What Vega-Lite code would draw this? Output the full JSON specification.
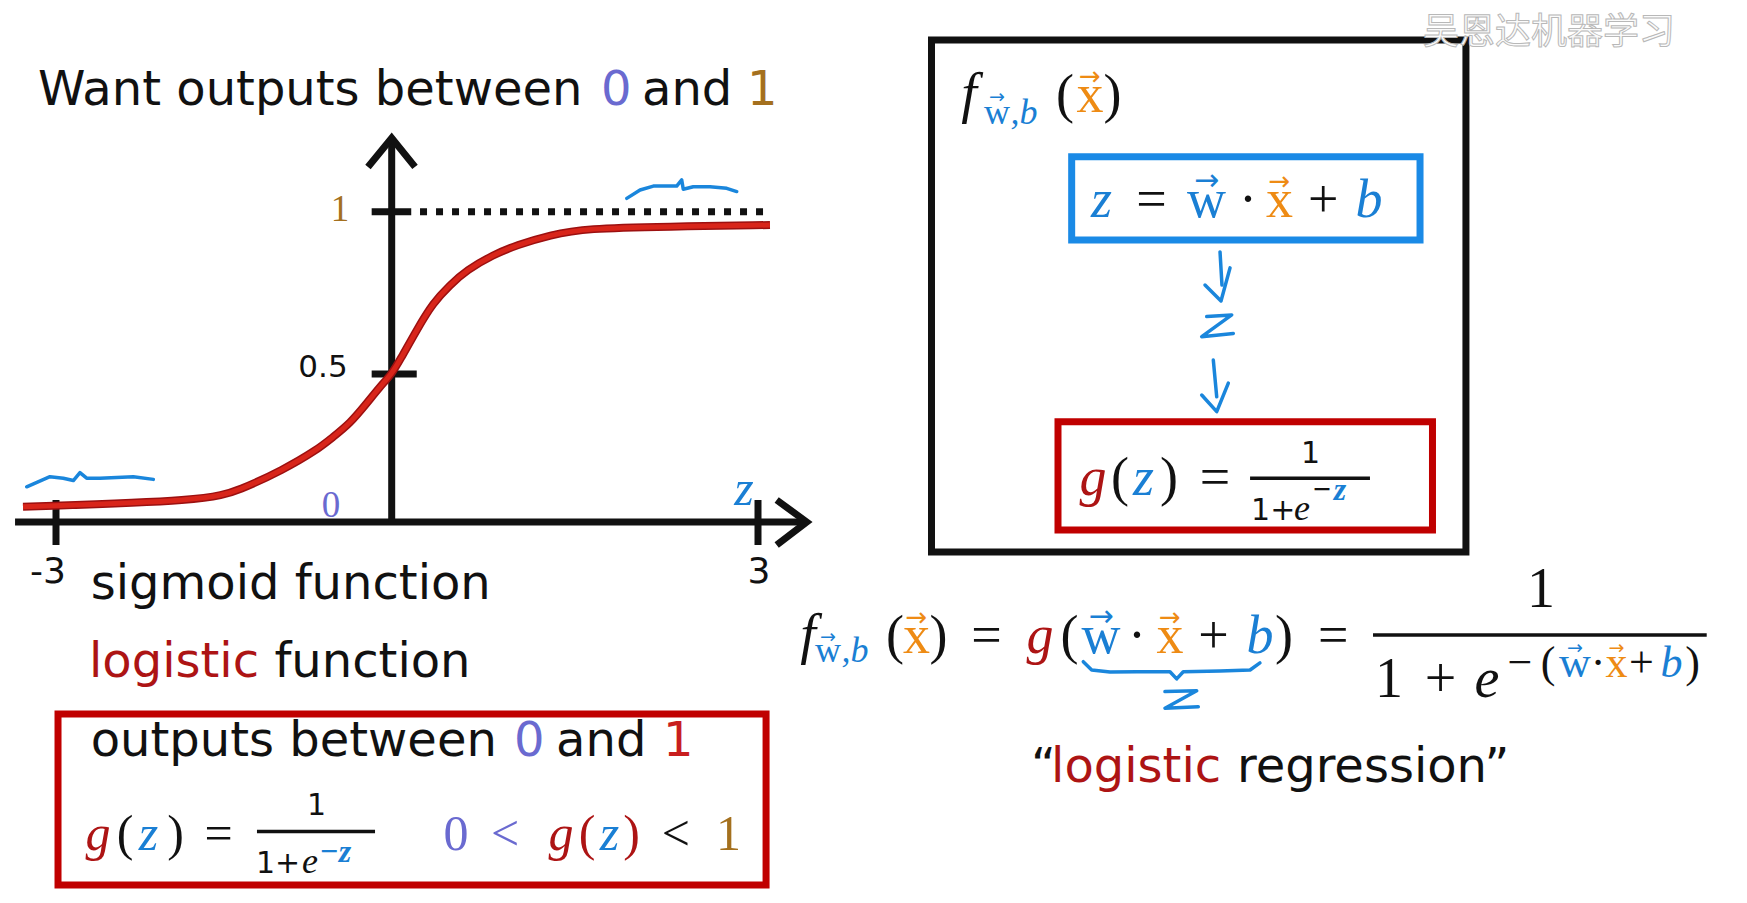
{
  "$schema": "https://vega.github.io/schema/vega-lite/v6.json",
  "width": 1747,
  "height": 903,
  "padding": 0,
  "autosize": {"type": "none"},
  "background": "#ffffff",
  "config": {"view": {"stroke": null}, "text": {"baseline": "alphabetic"}},
  "datasets": {
    "boxes": [
      {"frame": "plain", "z": 4.421, "z2": 8.798, "g": 1.529, "g2": -0.101},
      {"frame": "param", "z": 5.569, "z2": 8.422, "g": 1.169, "g2": 0.913},
      {"frame": "sigmoid", "z": 5.457, "z2": 8.524, "g": 0.339, "g2": -0.027},
      {"frame": "sigmoid", "z": -2.982, "z2": 3.066, "g": -0.649, "g2": -1.226}
    ],
    "lines": [
      {"seg": "xaxis", "ord": 0, "z": -3.366, "g": 0},
      {"seg": "xaxis", "ord": 1, "z": 3.36, "g": 0},
      {"seg": "xarrow", "ord": 0, "z": 3.153, "g": 0.0743},
      {"seg": "xarrow", "ord": 1, "z": 3.399, "g": 0},
      {"seg": "xarrow", "ord": 2, "z": 3.153, "g": -0.0777},
      {"seg": "yaxis", "ord": 0, "z": 0, "g": 0},
      {"seg": "yaxis", "ord": 1, "z": 0, "g": 1.221},
      {"seg": "yarrow", "ord": 0, "z": -0.212, "g": 1.138},
      {"seg": "yarrow", "ord": 1, "z": 0, "g": 1.227},
      {"seg": "yarrow", "ord": 2, "z": 0.191, "g": 1.138},
      {"seg": "tickm3", "ord": 0, "z": -3, "g": 0.0743},
      {"seg": "tickm3", "ord": 1, "z": -3, "g": -0.0777},
      {"seg": "tick3", "ord": 0, "z": 3, "g": 0.0743},
      {"seg": "tick3", "ord": 1, "z": 3, "g": -0.0777},
      {"seg": "tick1", "ord": 0, "z": -0.179, "g": 1},
      {"seg": "tick1", "ord": 1, "z": 0.16, "g": 1},
      {"seg": "tick05", "ord": 0, "z": -0.179, "g": 0.5},
      {"seg": "tick05", "ord": 1, "z": 0.205, "g": 0.5}
    ],
    "dots": [
      {"z": 0.232, "g": 1},
      {"z": 3.098, "g": 1}
    ],
    "curve": [
      {"ord": 0, "z": -3.295, "g": 0.0517},
      {"ord": 1, "z": -1.653, "g": 0.072},
      {"ord": 2, "z": -1.356, "g": 0.108},
      {"ord": 3, "z": -0.971, "g": 0.176},
      {"ord": 4, "z": -0.67, "g": 0.243},
      {"ord": 5, "z": -0.525, "g": 0.287},
      {"ord": 6, "z": -0.373, "g": 0.333},
      {"ord": 7, "z": -0.223, "g": 0.401},
      {"ord": 8, "z": -0.105, "g": 0.457},
      {"ord": 9, "z": 0, "g": 0.5},
      {"ord": 10, "z": 0.068, "g": 0.543},
      {"ord": 11, "z": 0.205, "g": 0.636},
      {"ord": 12, "z": 0.338, "g": 0.719},
      {"ord": 13, "z": 0.477, "g": 0.774},
      {"ord": 14, "z": 0.614, "g": 0.82},
      {"ord": 15, "z": 0.83, "g": 0.867},
      {"ord": 16, "z": 1.024, "g": 0.897},
      {"ord": 17, "z": 1.296, "g": 0.928},
      {"ord": 18, "z": 1.597, "g": 0.949},
      {"ord": 19, "z": 2.252, "g": 0.954},
      {"ord": 20, "z": 3.098, "g": 0.959}
    ],
    "ink": [
      {"seg": "squigL", "ord": 0, "z": -3.262, "g": 0.119},
      {"seg": "squigL", "ord": 1, "z": -3.054, "g": 0.153},
      {"seg": "squigL", "ord": 2, "z": -2.935, "g": 0.148},
      {"seg": "squigL", "ord": 3, "z": -2.845, "g": 0.14},
      {"seg": "squigL", "ord": 4, "z": -2.786, "g": 0.167},
      {"seg": "squigL", "ord": 5, "z": -2.726, "g": 0.148},
      {"seg": "squigL", "ord": 6, "z": -2.607, "g": 0.148},
      {"seg": "squigL", "ord": 7, "z": -2.309, "g": 0.153},
      {"seg": "squigL", "ord": 8, "z": -2.13, "g": 0.144},
      {"seg": "squigR", "ord": 0, "z": 1.925, "g": 1.041},
      {"seg": "squigR", "ord": 1, "z": 2.034, "g": 1.067},
      {"seg": "squigR", "ord": 2, "z": 2.143, "g": 1.079},
      {"seg": "squigR", "ord": 3, "z": 2.252, "g": 1.079},
      {"seg": "squigR", "ord": 4, "z": 2.334, "g": 1.079},
      {"seg": "squigR", "ord": 5, "z": 2.375, "g": 1.098},
      {"seg": "squigR", "ord": 6, "z": 2.388, "g": 1.069},
      {"seg": "squigR", "ord": 7, "z": 2.47, "g": 1.077},
      {"seg": "squigR", "ord": 8, "z": 2.607, "g": 1.077},
      {"seg": "squigR", "ord": 9, "z": 2.744, "g": 1.072},
      {"seg": "squigR", "ord": 10, "z": 2.826, "g": 1.062},
      {"seg": "arr1a", "ord": 0, "z": 6.784, "g": 0.876},
      {"seg": "arr1a", "ord": 1, "z": 6.8, "g": 0.774},
      {"seg": "arr1b", "ord": 0, "z": 6.661, "g": 0.774},
      {"seg": "arr1b", "ord": 1, "z": 6.792, "g": 0.725},
      {"seg": "arr1b", "ord": 2, "z": 6.866, "g": 0.827},
      {"seg": "zmid", "ord": 0, "z": 6.675, "g": 0.677},
      {"seg": "zmid", "ord": 1, "z": 6.88, "g": 0.682},
      {"seg": "zmid", "ord": 2, "z": 6.634, "g": 0.615},
      {"seg": "zmid", "ord": 3, "z": 6.893, "g": 0.625},
      {"seg": "arr2a", "ord": 0, "z": 6.729, "g": 0.543},
      {"seg": "arr2a", "ord": 1, "z": 6.757, "g": 0.423},
      {"seg": "arr2b", "ord": 0, "z": 6.634, "g": 0.429},
      {"seg": "arr2b", "ord": 1, "z": 6.757, "g": 0.373},
      {"seg": "arr2b", "ord": 2, "z": 6.852, "g": 0.469},
      {"seg": "brace", "ord": 0, "z": 5.664, "g": -0.472},
      {"seg": "brace", "ord": 1, "z": 5.733, "g": -0.5},
      {"seg": "brace", "ord": 2, "z": 5.883, "g": -0.507},
      {"seg": "brace", "ord": 3, "z": 6.102, "g": -0.506},
      {"seg": "brace", "ord": 4, "z": 6.374, "g": -0.506},
      {"seg": "brace", "ord": 5, "z": 6.429, "g": -0.53},
      {"seg": "brace", "ord": 6, "z": 6.483, "g": -0.506},
      {"seg": "brace", "ord": 7, "z": 6.784, "g": -0.503},
      {"seg": "brace", "ord": 8, "z": 7.03, "g": -0.5},
      {"seg": "brace", "ord": 9, "z": 7.111, "g": -0.476},
      {"seg": "zbrace", "ord": 0, "z": 6.333, "g": -0.573},
      {"seg": "zbrace", "ord": 1, "z": 6.593, "g": -0.57},
      {"seg": "zbrace", "ord": 2, "z": 6.333, "g": -0.629},
      {"seg": "zbrace", "ord": 3, "z": 6.606, "g": -0.624}
    ],
    "bars": [
      {"z": -1.204, "z2": -0.149, "g": -1.046},
      {"z": 7.03, "z2": 8.012, "g": 0.148},
      {"z": 8.037, "z2": 10.77, "g": -0.382}
    ],
    "glyphs": [
      {"kind": "body", "t": "Want outputs between", "z": -3.161, "g": 1.329, "ink": "text"},
      {"kind": "body", "t": "0", "z": 1.714, "g": 1.329, "ink": "zero"},
      {"kind": "body", "t": "and", "z": 2.05, "g": 1.329, "ink": "text"},
      {"kind": "body", "t": "1", "z": 2.91, "g": 1.329, "ink": "one"},
      {"kind": "body", "t": "sigmoid function", "z": -2.69, "g": -0.26, "ink": "text"},
      {"kind": "body", "t": "logistic", "z": -2.705, "g": -0.523, "ink": "sigmoid"},
      {"kind": "body", "t": "function", "z": -1.048, "g": -0.523, "ink": "text"},
      {"kind": "body", "t": "outputs between", "z": -2.69, "g": -0.791, "ink": "text"},
      {"kind": "body", "t": "0", "z": 1.002, "g": -0.791, "ink": "zero"},
      {"kind": "body", "t": "and", "z": 1.346, "g": -0.791, "ink": "text"},
      {"kind": "body", "t": "1", "z": 2.222, "g": -0.791, "ink": "bound"},
      {"kind": "body", "t": "“", "z": 5.236, "g": -0.878, "ink": "text"},
      {"kind": "body", "t": "logistic", "z": 5.4, "g": -0.878, "ink": "sigmoid"},
      {"kind": "body", "t": "regression”", "z": 6.923, "g": -0.878, "ink": "text"},
      {"kind": "fracL", "t": "1+", "z": -1.213, "g": -1.186, "ink": "text"},
      {"kind": "fracL", "t": "1+", "z": 7.038, "g": 0.007, "ink": "text"},
      {"kind": "fracC", "t": "1", "z": -0.672, "g": -0.99, "ink": "text"},
      {"kind": "fracC", "t": "1", "z": 7.525, "g": 0.198, "ink": "text"},
      {"kind": "fracE", "t": "e", "z": -0.73, "g": -1.186, "ink": "text"},
      {"kind": "fracE", "t": "e", "z": 7.455, "g": 0.007, "ink": "text"},
      {"kind": "tickA", "t": "0.5", "z": -0.614, "g": 0.491, "ink": "text"},
      {"kind": "tickB", "t": "-3", "z": -3.071, "g": -0.206, "ink": "text"},
      {"kind": "tickB", "t": "3", "z": 3.008, "g": -0.206, "ink": "text"},
      {"kind": "tickSerif", "t": "1", "z": -0.462, "g": 0.971, "ink": "one"},
      {"kind": "tickSerif", "t": "0", "z": -0.542, "g": 0.017, "ink": "zero"},
      {"kind": "midI", "t": "z", "z": 2.885, "g": 0.057, "ink": "param"},
      {"kind": "midI", "t": "g", "z": -2.625, "g": -1.108, "ink": "sigmoid"},
      {"kind": "midI", "t": "z", "z": -2.173, "g": -1.108, "ink": "param"},
      {"kind": "midI", "t": "g", "z": 1.387, "g": -1.108, "ink": "sigmoid"},
      {"kind": "midI", "t": "z", "z": 1.784, "g": -1.108, "ink": "param"},
      {"kind": "midU", "t": "(", "z": -2.383, "g": -1.108, "ink": "text"},
      {"kind": "midU", "t": ")", "z": -1.932, "g": -1.108, "ink": "text"},
      {"kind": "midU", "t": "=", "z": -1.548, "g": -1.108, "ink": "text"},
      {"kind": "midU", "t": "0", "z": 0.527, "g": -1.108, "ink": "zero"},
      {"kind": "midU", "t": "<", "z": 0.928, "g": -1.108, "ink": "zero"},
      {"kind": "midU", "t": "(", "z": 1.6, "g": -1.108, "ink": "sigmoid"},
      {"kind": "midU", "t": ")", "z": 1.964, "g": -1.108, "ink": "sigmoid"},
      {"kind": "midU", "t": "<", "z": 2.328, "g": -1.108, "ink": "text"},
      {"kind": "midU", "t": "1", "z": 2.758, "g": -1.108, "ink": "one"},
      {"kind": "supI", "t": "−z", "z": -0.504, "g": -1.149, "ink": "param"},
      {"kind": "supI", "t": "−", "z": 7.619, "g": 0.074, "ink": "text"},
      {"kind": "supI", "t": "z", "z": 7.767, "g": 0.074, "ink": "param"},
      {"kind": "bigI", "t": "f", "z": 4.728, "g": 1.307, "ink": "text"},
      {"kind": "bigI", "t": "f", "z": 3.41, "g": -0.443, "ink": "text"},
      {"kind": "bigI", "t": "e", "z": 8.97, "g": -0.59, "ink": "text"},
      {"kind": "bigU", "t": "1", "z": 9.413, "g": -0.286, "ink": "text"},
      {"kind": "bigU", "t": "1", "z": 8.168, "g": -0.59, "ink": "text"},
      {"kind": "bigU", "t": "+", "z": 8.59, "g": -0.59, "ink": "text"},
      {"kind": "subI", "t": ",b", "z": 5.178, "g": 1.27, "ink": "param"},
      {"kind": "subI", "t": ",b", "z": 3.794, "g": -0.472, "ink": "param"},
      {"kind": "subU", "t": "w", "z": 4.957, "g": 1.27, "ink": "param"},
      {"kind": "subU", "t": "w", "z": 3.573, "g": -0.472, "ink": "param"},
      {"kind": "mathI", "t": "z", "z": 5.813, "g": 0.985, "ink": "param"},
      {"kind": "mathI", "t": "b", "z": 8.004, "g": 0.985, "ink": "param"},
      {"kind": "mathI", "t": "g", "z": 5.744, "g": 0.091, "ink": "sigmoid"},
      {"kind": "mathI", "t": "z", "z": 6.157, "g": 0.091, "ink": "param"},
      {"kind": "mathI", "t": "g", "z": 5.31, "g": -0.443, "ink": "sigmoid"},
      {"kind": "mathI", "t": "b", "z": 7.111, "g": -0.443, "ink": "param"},
      {"kind": "mathU", "t": "(", "z": 5.514, "g": 1.307, "ink": "text"},
      {"kind": "mathU", "t": "x", "z": 5.719, "g": 1.307, "ink": "feature"},
      {"kind": "mathU", "t": ")", "z": 5.903, "g": 1.307, "ink": "text"},
      {"kind": "mathU", "t": "=", "z": 6.223, "g": 0.985, "ink": "text"},
      {"kind": "mathU", "t": "w", "z": 6.673, "g": 0.985, "ink": "param"},
      {"kind": "mathU", "t": "·", "z": 7.013, "g": 0.985, "ink": "text"},
      {"kind": "mathU", "t": "x", "z": 7.271, "g": 0.985, "ink": "feature"},
      {"kind": "mathU", "t": "+", "z": 7.63, "g": 0.985, "ink": "text"},
      {"kind": "mathU", "t": "(", "z": 5.965, "g": 0.091, "ink": "text"},
      {"kind": "mathU", "t": ")", "z": 6.366, "g": 0.091, "ink": "text"},
      {"kind": "mathU", "t": "=", "z": 6.743, "g": 0.091, "ink": "text"},
      {"kind": "mathU", "t": "(", "z": 4.122, "g": -0.443, "ink": "text"},
      {"kind": "mathU", "t": "x", "z": 4.298, "g": -0.443, "ink": "feature"},
      {"kind": "mathU", "t": ")", "z": 4.478, "g": -0.443, "ink": "text"},
      {"kind": "mathU", "t": "=", "z": 4.871, "g": -0.443, "ink": "text"},
      {"kind": "mathU", "t": "(", "z": 5.551, "g": -0.443, "ink": "text"},
      {"kind": "mathU", "t": "w", "z": 5.809, "g": -0.443, "ink": "param"},
      {"kind": "mathU", "t": "·", "z": 6.104, "g": -0.443, "ink": "text"},
      {"kind": "mathU", "t": "x", "z": 6.374, "g": -0.443, "ink": "feature"},
      {"kind": "mathU", "t": "+", "z": 6.731, "g": -0.443, "ink": "text"},
      {"kind": "mathU", "t": ")", "z": 7.308, "g": -0.443, "ink": "text"},
      {"kind": "mathU", "t": "=", "z": 7.712, "g": -0.443, "ink": "text"},
      {"kind": "expI", "t": "b", "z": 10.482, "g": -0.523, "ink": "param"},
      {"kind": "expU", "t": "−", "z": 9.241, "g": -0.523, "ink": "text"},
      {"kind": "expU", "t": "(", "z": 9.47, "g": -0.523, "ink": "text"},
      {"kind": "expU", "t": "w", "z": 9.691, "g": -0.523, "ink": "param"},
      {"kind": "expU", "t": "·", "z": 9.88, "g": -0.523, "ink": "text"},
      {"kind": "expU", "t": "x", "z": 10.031, "g": -0.523, "ink": "feature"},
      {"kind": "expU", "t": "+", "z": 10.236, "g": -0.523, "ink": "text"},
      {"kind": "expU", "t": ")", "z": 10.654, "g": -0.523, "ink": "text"},
      {"kind": "arS", "t": "→", "z": 4.957, "g": 1.336, "ink": "param"},
      {"kind": "arM", "t": "→", "z": 5.719, "g": 1.389, "ink": "feature"},
      {"kind": "arL", "t": "→", "z": 6.673, "g": 1.067, "ink": "param"},
      {"kind": "arM", "t": "→", "z": 7.271, "g": 1.067, "ink": "feature"},
      {"kind": "arS", "t": "→", "z": 3.573, "g": -0.408, "ink": "param"},
      {"kind": "arM", "t": "→", "z": 4.298, "g": -0.351, "ink": "feature"},
      {"kind": "arL", "t": "→", "z": 5.809, "g": -0.351, "ink": "param"},
      {"kind": "arM", "t": "→", "z": 6.374, "g": -0.351, "ink": "feature"},
      {"kind": "arS", "t": "→", "z": 9.691, "g": -0.446, "ink": "param"},
      {"kind": "arS", "t": "→", "z": 10.031, "g": -0.446, "ink": "feature"},
      {"kind": "mark", "t": "吴恩达机器学习", "z": 8.446, "g": 1.517, "ink": "text"}
    ]
  },
  "encoding": {
    "x": {"field": "z", "type": "quantitative", "axis": null,
          "scale": {"domain": [-3, 0, 3], "range": [56, 391.7, 758], "nice": false, "zero": false}},
    "y": {"field": "g", "type": "quantitative", "axis": null,
          "scale": {"domain": [0, 0.5, 1], "range": [522, 374, 211.7], "nice": false, "zero": false}}
  },
  "layer": [
    {
      "data": {"name": "boxes"},
      "mark": {"type": "rect", "fillOpacity": 0, "strokeWidth": 7, "strokeJoin": "miter"},
      "encoding": {
        "x2": {"field": "z2"},
        "y2": {"field": "g2"},
        "stroke": {"field": "frame", "type": "nominal", "legend": null,
                   "scale": {"domain": ["plain", "param", "sigmoid"], "range": ["#111111", "#1a8ae6", "#c00000"]}}
      }
    },
    {
      "data": {"name": "lines"},
      "mark": {"type": "line", "strokeWidth": 7, "color": "#111111", "strokeCap": "butt", "strokeJoin": "miter"},
      "encoding": {"detail": {"field": "seg"}, "order": {"field": "ord"}}
    },
    {
      "data": {"name": "dots"},
      "mark": {"type": "line", "strokeWidth": 7, "color": "#111111", "strokeDash": [7, 9], "strokeCap": "butt"},
      "encoding": {}
    },
    {
      "data": {"name": "curve"},
      "mark": {"type": "line", "strokeWidth": 8, "color": "#9c1010", "interpolate": "basis", "strokeCap": "butt"},
      "encoding": {"order": {"field": "ord"}}
    },
    {
      "data": {"name": "curve"},
      "mark": {"type": "line", "strokeWidth": 5, "color": "#d8251a", "interpolate": "basis", "strokeCap": "butt"},
      "encoding": {"order": {"field": "ord"}}
    },
    {
      "data": {"name": "ink"},
      "mark": {"type": "line", "strokeWidth": 3.5, "color": "#1a86dc", "strokeCap": "round", "strokeJoin": "round"},
      "encoding": {"detail": {"field": "seg"}, "order": {"field": "ord"}}
    },
    {
      "data": {"name": "bars"},
      "mark": {"type": "rule", "strokeWidth": 3.5, "color": "#111111"},
      "encoding": {"x2": {"field": "z2"}}
    },
    {
      "data": {"name": "glyphs"},
      "encoding": {
        "text": {"field": "t"},
        "color": {"field": "ink", "type": "nominal", "legend": null,
                  "scale": {"domain": ["text", "param", "feature", "sigmoid", "zero", "one", "bound"],
                            "range": ["#111111", "#1a7fd4", "#ee8b14", "#ad1414", "#6a6ad0", "#a4701e", "#c81e1e"]}}
      },
      "layer": [
        {"transform": [{"filter": "datum.kind === 'body'"}],
         "mark": {"type": "text", "font": "DejaVu Sans", "fontSize": 48, "align": "left", "baseline": "alphabetic"}},
        {"transform": [{"filter": "datum.kind === 'fracL'"}],
         "mark": {"type": "text", "font": "DejaVu Sans", "fontSize": 30, "align": "left", "baseline": "alphabetic"}},
        {"transform": [{"filter": "datum.kind === 'fracC'"}],
         "mark": {"type": "text", "font": "DejaVu Sans", "fontSize": 30, "align": "center", "baseline": "alphabetic"}},
        {"transform": [{"filter": "datum.kind === 'fracE'"}],
         "mark": {"type": "text", "font": "Liberation Serif", "fontStyle": "italic", "fontSize": 36, "align": "center", "baseline": "alphabetic"}},
        {"transform": [{"filter": "datum.kind === 'tickA'"}],
         "mark": {"type": "text", "font": "DejaVu Sans", "fontSize": 31, "align": "center", "baseline": "alphabetic"}},
        {"transform": [{"filter": "datum.kind === 'tickB'"}],
         "mark": {"type": "text", "font": "DejaVu Sans", "fontSize": 36, "align": "center", "baseline": "alphabetic"}},
        {"transform": [{"filter": "datum.kind === 'tickSerif'"}],
         "mark": {"type": "text", "font": "Liberation Serif", "fontSize": 37, "align": "center", "baseline": "alphabetic"}},
        {"transform": [{"filter": "datum.kind === 'midI'"}],
         "mark": {"type": "text", "font": "Liberation Serif", "fontStyle": "italic", "fontSize": 50, "align": "center", "baseline": "alphabetic"}},
        {"transform": [{"filter": "datum.kind === 'midU'"}],
         "mark": {"type": "text", "font": "Liberation Serif", "fontSize": 50, "align": "center", "baseline": "alphabetic"}},
        {"transform": [{"filter": "datum.kind === 'supI'"}],
         "mark": {"type": "text", "font": "Liberation Serif", "fontStyle": "italic", "fontWeight": "bold", "fontSize": 32, "align": "center", "baseline": "alphabetic"}},
        {"transform": [{"filter": "datum.kind === 'bigI'"}],
         "mark": {"type": "text", "font": "Liberation Serif", "fontStyle": "italic", "fontSize": 56, "align": "center", "baseline": "alphabetic"}},
        {"transform": [{"filter": "datum.kind === 'bigU'"}],
         "mark": {"type": "text", "font": "Liberation Serif", "fontSize": 56, "align": "center", "baseline": "alphabetic"}},
        {"transform": [{"filter": "datum.kind === 'subI'"}],
         "mark": {"type": "text", "font": "Liberation Serif", "fontStyle": "italic", "fontSize": 36, "align": "center", "baseline": "alphabetic"}},
        {"transform": [{"filter": "datum.kind === 'subU'"}],
         "mark": {"type": "text", "font": "Liberation Serif", "fontSize": 36, "align": "center", "baseline": "alphabetic"}},
        {"transform": [{"filter": "datum.kind === 'mathI'"}],
         "mark": {"type": "text", "font": "Liberation Serif", "fontStyle": "italic", "fontSize": 54, "align": "center", "baseline": "alphabetic"}},
        {"transform": [{"filter": "datum.kind === 'mathU'"}],
         "mark": {"type": "text", "font": "Liberation Serif", "fontSize": 54, "align": "center", "baseline": "alphabetic"}},
        {"transform": [{"filter": "datum.kind === 'expI'"}],
         "mark": {"type": "text", "font": "Liberation Serif", "fontStyle": "italic", "fontSize": 44, "align": "center", "baseline": "alphabetic"}},
        {"transform": [{"filter": "datum.kind === 'expU'"}],
         "mark": {"type": "text", "font": "Liberation Serif", "fontSize": 44, "align": "center", "baseline": "alphabetic"}},
        {"transform": [{"filter": "datum.kind === 'arL'"}],
         "mark": {"type": "text", "font": "DejaVu Sans", "fontSize": 30, "align": "center", "baseline": "alphabetic"}},
        {"transform": [{"filter": "datum.kind === 'arM'"}],
         "mark": {"type": "text", "font": "DejaVu Sans", "fontSize": 26, "align": "center", "baseline": "alphabetic"}},
        {"transform": [{"filter": "datum.kind === 'arS'"}],
         "mark": {"type": "text", "font": "DejaVu Sans", "fontSize": 19, "align": "center", "baseline": "alphabetic"}}
      ]
    },
    {
      "data": {"name": "glyphs"},
      "transform": [{"filter": "datum.kind === 'mark'"}],
      "mark": {"type": "text", "font": "Noto Sans CJK SC", "fontSize": 36, "align": "left", "baseline": "alphabetic",
               "fill": "#fbfbfb", "stroke": "#b8b8b8", "strokeWidth": 1},
      "encoding": {"text": {"field": "t"}}
    }
  ]
}
